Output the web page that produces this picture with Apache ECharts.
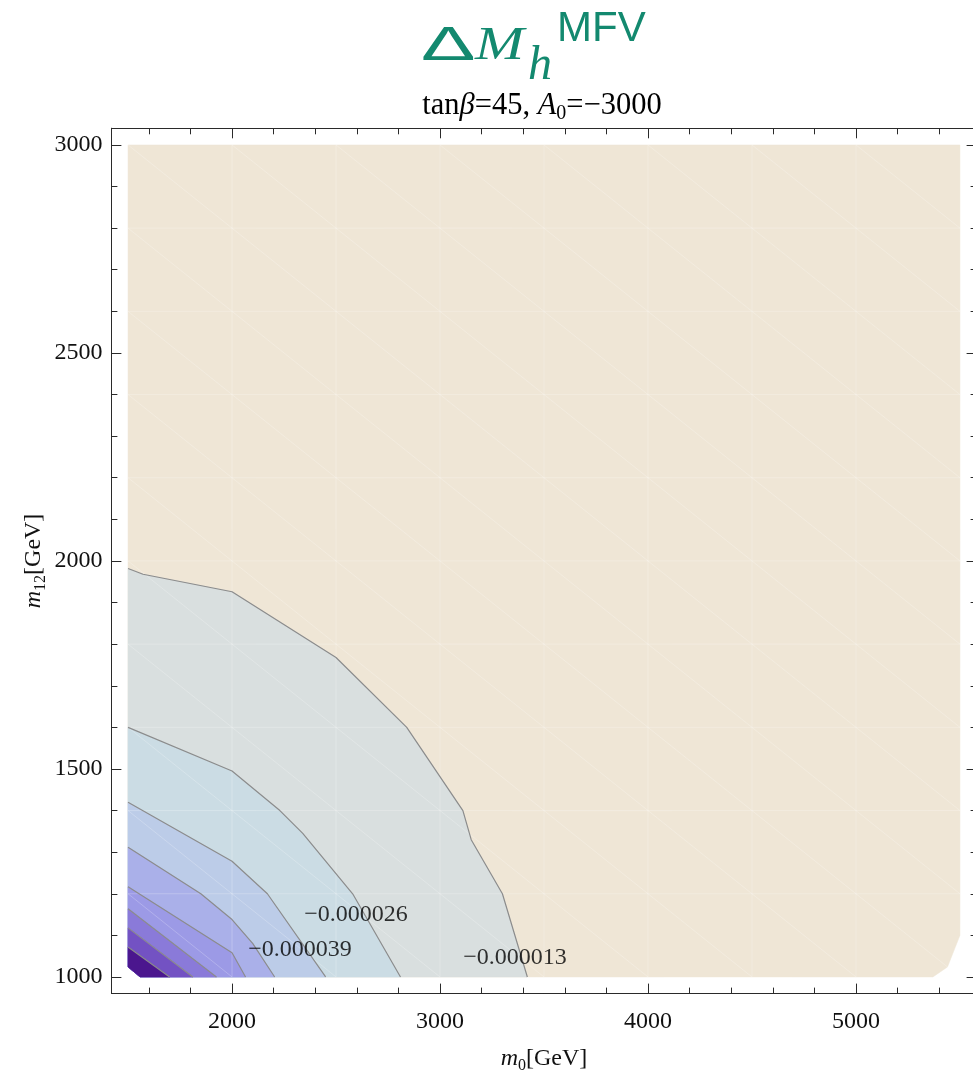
<!DOCTYPE html>
<html>
<head>
<meta charset="utf-8">
<script src="https://cdn.jsdelivr.net/npm/echarts@6.0.0/dist/echarts.min.js"></script>
<style>
  html, body { margin: 0; padding: 0; background: #fff; overflow: hidden; }
  #chart { width: 980px; height: 1074px; }
</style>
</head>
<body>
<div id="chart"></div>
<script>
// ---- scan grid (GeV) ----
const m0Grid  = [1500, 2000, 2500, 3000, 3500, 4000, 4500, 5000, 5500];
const m12Grid = [1000, 1200, 1400, 1600, 1800, 2000, 2200, 2400, 2600, 2800, 3000];

// outline of the scanned (m0, m12) region
const scanOutline = [[1500, 1024], [1500, 3000], [5500, 3000], [5500, 1100], [5440, 1024], [5370, 1000], [1558, 1000]];

// contour levels of Delta M_h^MFV
const levels = [-0.000013, -0.000026, -0.000039, -0.000052, -0.000065, -0.000078, -0.000091, -0.000104];

// iso-lines, each from the m12 edge (m0 = 1500) down to the m0 edge (m12 = 1000)
const iso013 = [[1500, 1982], [1572, 1968], [2000, 1926], [2500, 1768], [2840, 1600], [3110, 1400], [3150, 1330], [3300, 1200], [3420, 1000]];
const iso026 = [[1500, 1600], [2000, 1495], [2230, 1400], [2340, 1345], [2580, 1200], [2810, 1000]];
const iso039 = [[1500, 1420], [2000, 1278], [2170, 1200], [2450, 1000]];
const iso052 = [[1500, 1312], [1850, 1200], [2000, 1138], [2100, 1080], [2205, 1000]];
const iso065 = [[1500, 1217], [2000, 1058], [2065, 1000]];
const iso078 = [[1500, 1164], [1925, 1000]];
const iso091 = [[1500, 1118], [1812, 1000]];
const iso104 = [[1500, 1072], [1700, 1000]];
const isoLines = [iso013, iso026, iso039, iso052, iso065, iso078, iso091, iso104];

// labelled contours: level and anchor point
const labelLevels = [-0.000013, -0.000026, -0.000039];
const labelM0     = [3361, 2596, 2327];
const labelM12    = [1046, 1149, 1065];

// frame ticks
const m0Major  = [2000, 3000, 4000, 5000];
const m0Minor  = [1600, 1800, 2200, 2400, 2600, 2800, 3200, 3400, 3600, 3800, 4200, 4400, 4600, 4800, 5200, 5400];
const m12Major = [1000, 1500, 2000, 2500, 3000];
const m12Minor = [1100, 1200, 1300, 1400, 1600, 1700, 1800, 1900, 2100, 2200, 2300, 2400, 2600, 2700, 2800, 2900];

// ---- styling ----
const bandColors = ['#efe6d6', '#d9dfdf', '#cbdce4', '#bccce8', '#aab0e9', '#9c9ae6', '#8a7ad9', '#7352c3', '#4b168e'];
const serif = '"Liberation Serif", "Times New Roman", serif';
const sans = '"Liberation Sans", Arial, sans-serif';
const frameColor = '#2a2a2a';
const green = '#13896f';

const chart = echarts.init(document.getElementById('chart'), null, { renderer: 'canvas' });

function fmtLevel(v) {
  return (v < 0 ? '\u2212' : '') + Math.abs(v).toFixed(6);
}

function frameAxis(dim, position, values, len, withLabels, extra) {
  const ax = {
    type: 'value',
    position: position,
    min: dim === 'x' ? 1420 : 960,
    max: dim === 'x' ? 5580 : 3040,
    axisLine: { show: true, onZero: false, lineStyle: { color: frameColor, width: 1 } },
    axisTick: { show: true, inside: true, length: len, customValues: values, lineStyle: { color: frameColor, width: 1 } },
    axisLabel: withLabels
      ? { show: true, customValues: values, margin: dim === 'x' ? 16 : 9, fontFamily: serif, fontSize: 24, color: '#111',
          formatter: v => String(v) }
      : { show: false },
    splitLine: { show: false },
    minorTick: { show: false },
    axisPointer: { show: false }
  };
  return Object.assign(ax, extra || {});
}

const subRich = {
  i: { fontFamily: serif, fontStyle: 'italic', fontSize: 24, lineHeight: 30, color: '#111' },
  r: { fontFamily: serif, fontSize: 24, lineHeight: 30, color: '#111' },
  s: { fontFamily: serif, fontSize: 16, lineHeight: 16, verticalAlign: 'bottom', color: '#111' }
};
const titleRich = {
  i: { fontFamily: serif, fontStyle: 'italic', fontSize: 30.5, lineHeight: 36, color: '#111' },
  r: { fontFamily: serif, fontSize: 30.5, lineHeight: 36, color: '#111' },
  s: { fontFamily: serif, fontSize: 20, lineHeight: 20, verticalAlign: 'bottom', color: '#111' }
};

const xAxes = [
  frameAxis('x', 'bottom', m0Major, 10, true, {
    name: '{i|m}{s|0}{r|[GeV]}', nameLocation: 'middle', nameGap: 50,
    nameTextStyle: { rich: subRich }
  }),
  frameAxis('x', 'bottom', m0Minor, 6, false),
  frameAxis('x', 'top', m0Major, 10, false),
  frameAxis('x', 'top', m0Minor, 6, false)
];
const yAxes = [
  frameAxis('y', 'left', m12Major, 10, true, {
    name: '{i|m}{s|12}{r|[GeV]}', nameLocation: 'middle', nameGap: 63, nameMoveOverlap: false,
    nameTextStyle: { rich: subRich }
  }),
  frameAxis('y', 'left', m12Minor, 6, false),
  frameAxis('y', 'right', m12Major, 10, false),
  frameAxis('y', 'right', m12Minor, 6, false)
];

// filled bands: region 0 is the whole scan, region k is "below iso-line k"
const bandSeries = {
  type: 'custom',
  coordinateSystem: 'cartesian2d',
  xAxisIndex: 0, yAxisIndex: 0,
  silent: true,
  data: bandColors.map((c, k) => [k]),
  renderItem: function (params, api) {
    const k = params.dataIndex;
    const pts = k === 0 ? scanOutline : isoLines[k - 1].concat([scanOutline[6], scanOutline[0]]);
    return {
      type: 'polygon',
      shape: { points: pts.map(p => api.coord(p)) },
      style: { fill: bandColors[k], stroke: bandColors[k], lineWidth: 0.5 }
    };
  },
  z: 1
};

// faint seams of the interpolation mesh
const seamSeries = {
  type: 'custom',
  coordinateSystem: 'cartesian2d',
  xAxisIndex: 0, yAxisIndex: 0,
  silent: true,
  data: [[0]],
  renderItem: function (params, api) {
    const children = [];
    const st = { stroke: 'rgba(255,255,255,0.22)', lineWidth: 1 };
    const x0 = m0Grid[0], x1 = m0Grid[m0Grid.length - 1];
    const y0 = m12Grid[0], y1 = m12Grid[m12Grid.length - 1];
    const seg = (p, q) => {
      const a = api.coord(p), b = api.coord(q);
      children.push({ type: 'line', shape: { x1: a[0], y1: a[1], x2: b[0], y2: b[1] }, style: st });
    };
    for (let i = 1; i < m0Grid.length - 1; i++) seg([m0Grid[i], y0], [m0Grid[i], y1]);
    for (let j = 1; j < m12Grid.length - 1; j++) seg([x0, m12Grid[j]], [x1, m12Grid[j]]);
    for (let i = 0; i < m0Grid.length - 1; i++) {
      for (let j = 0; j < m12Grid.length - 1; j++) {
        seg([m0Grid[i], m12Grid[j + 1]], [m0Grid[i + 1], m12Grid[j]]);
      }
    }
    return { type: 'group', children: children };
  },
  z: 2
};

const lineSeries = isoLines.map((pts, k) => ({
  type: 'line',
  name: fmtLevel(levels[k]),
  xAxisIndex: 0, yAxisIndex: 0,
  data: pts,
  showSymbol: false,
  symbol: 'none',
  silent: true,
  lineStyle: { color: '#8c8c8c', width: 1.2 },
  z: 3
}));

const labelSeries = {
  type: 'scatter',
  xAxisIndex: 0, yAxisIndex: 0,
  symbolSize: 0,
  silent: true,
  data: labelLevels.map((v, k) => [labelM0[k], labelM12[k]]),
  label: {
    show: true,
    position: 'inside',
    formatter: p => fmtLevel(labelLevels[p.dataIndex]),
    fontFamily: serif,
    fontSize: 24,
    color: '#000'
  },
  z: 4
};

function baselineY(base, size) { return base - 0.33 * size; }

chart.setOption({
  animation: false,
  backgroundColor: '#fff',
  grid: { left: 111.4, right: 3.4, top: 128.3, bottom: 80.4, containLabel: false, outerBoundsMode: 'none' },
  xAxis: xAxes,
  yAxis: yAxes,
  series: [bandSeries, seamSeries].concat(lineSeries, [labelSeries]),
  graphic: [
    { type: 'text', x: 421, y: baselineY(63, 48), scaleX: 1.7,
      style: { text: '\u0394', font: '48px ' + sans, fill: green, align: 'left', verticalAlign: 'middle' } },
    { type: 'text', x: 475, y: baselineY(62, 46), scaleX: 1.28,
      style: { text: 'M', font: 'italic 46px ' + serif, fill: green, align: 'left', verticalAlign: 'middle' } },
    { type: 'text', x: 528, y: baselineY(82, 48),
      style: { text: 'h', font: 'italic 48px ' + serif, fill: green, align: 'left', verticalAlign: 'middle' } },
    { type: 'text', x: 557, y: baselineY(43, 42),
      style: { text: 'MFV', font: '42px ' + sans, fill: green, align: 'left', verticalAlign: 'middle' } },
    { type: 'text', x: 542, y: 106,
      style: {
        text: '{r|tan}{i|\u03b2}{r|=45, }{i|A}{s|0}{r|=\u22123000}',
        align: 'center', verticalAlign: 'middle',
        rich: titleRich
      } }
  ]
});
</script>
</body>
</html>
